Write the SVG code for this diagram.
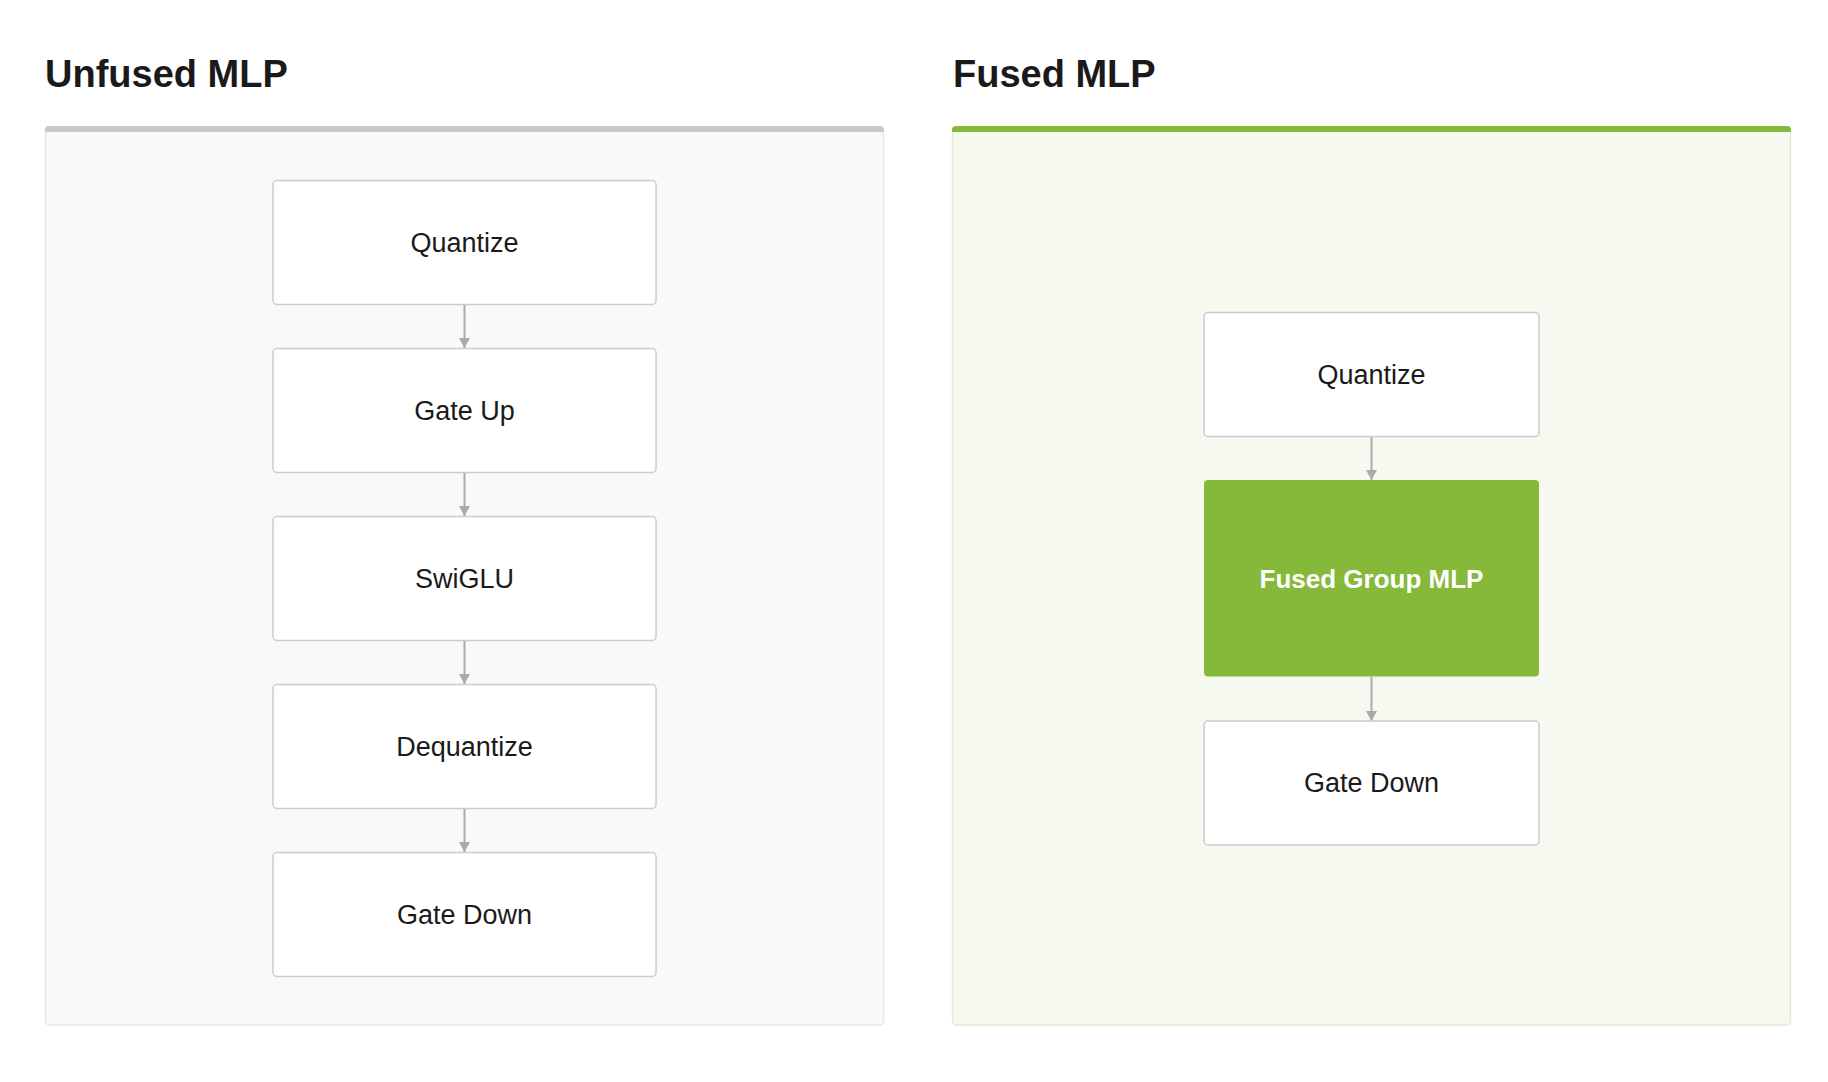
<svg xmlns="http://www.w3.org/2000/svg" width="1828" height="1082" viewBox="0 0 1828 1082">
  <style>
    .title { font-family: "Liberation Sans", Arial, sans-serif; font-weight: bold; font-size: 38px; fill: #1a1a1a; }
    .label { font-family: "Liberation Sans", Arial, sans-serif; font-size: 27px; fill: #1a1a1a; text-anchor: middle; dominant-baseline: central; }
    .label-w { font-family: "Liberation Sans", Arial, sans-serif; font-weight: bold; font-size: 26px; fill: #ffffff; text-anchor: middle; dominant-baseline: central; }
    .box { fill: #ffffff; stroke: #cccccc; stroke-width: 1.5; }
    .gbox { fill: #86b83a; }
    .conn { stroke: #aaaaaa; stroke-width: 2; fill: none; marker-end: url(#arrow); }
  </style>
  <defs>
    <marker id="arrow" viewBox="0 0 10 11" refX="10" refY="5.5" markerWidth="10" markerHeight="11" markerUnits="userSpaceOnUse" orient="auto">
      <path d="M0,0 L10,5.5 L0,11 Z" fill="#aaaaaa"/>
    </marker>
  </defs>
  <rect width="1828" height="1082" fill="#ffffff"/>

  <g id="panel-unfused">
    <text class="title" x="45" y="87">Unfused MLP</text>
    <rect x="45.5" y="127" width="838" height="898" rx="4" fill="#f9f9f9" stroke="#e6e6e6" stroke-width="1.5"/>
    <path d="M45,132 V130 Q45,126 49,126 H880 Q884,126 884,130 V132 Z" fill="#c8c8c8"/>
  </g>

  <g id="panel-fused">
    <text class="title" x="953" y="87">Fused MLP</text>
    <rect x="952.5" y="127" width="838" height="898" rx="4" fill="#f6f9f0" stroke="#e2ebd3" stroke-width="1.5"/>
    <path d="M952,132 V130 Q952,126 956,126 H1787 Q1791,126 1791,130 V132 Z" fill="#86b83a"/>
  </g>

  <g id="connectors">
    <line class="conn" x1="464.5" y1="305" x2="464.5" y2="348"/>
    <line class="conn" x1="464.5" y1="473" x2="464.5" y2="516"/>
    <line class="conn" x1="464.5" y1="641" x2="464.5" y2="684"/>
    <line class="conn" x1="464.5" y1="809" x2="464.5" y2="852"/>
    <line class="conn" x1="1371.5" y1="437" x2="1371.5" y2="480"/>
    <line class="conn" x1="1371.5" y1="677" x2="1371.5" y2="721"/>
  </g>

  <g id="u-quantize">
    <rect class="box" x="273" y="180.5" width="383" height="124" rx="4"/>
    <text class="label" x="464.5" y="242.5">Quantize</text>
  </g>
  <g id="u-gateup">
    <rect class="box" x="273" y="348.5" width="383" height="124" rx="4"/>
    <text class="label" x="464.5" y="410.5">Gate Up</text>
  </g>
  <g id="u-swiglu">
    <rect class="box" x="273" y="516.5" width="383" height="124" rx="4"/>
    <text class="label" x="464.5" y="578.5">SwiGLU</text>
  </g>
  <g id="u-dequantize">
    <rect class="box" x="273" y="684.5" width="383" height="124" rx="4"/>
    <text class="label" x="464.5" y="746.5">Dequantize</text>
  </g>
  <g id="u-gatedown">
    <rect class="box" x="273" y="852.5" width="383" height="124" rx="4"/>
    <text class="label" x="464.5" y="914.5">Gate Down</text>
  </g>

  <g id="f-quantize">
    <rect class="box" x="1204" y="312.5" width="335" height="124" rx="4"/>
    <text class="label" x="1371.5" y="374.5">Quantize</text>
  </g>
  <g id="f-fused">
    <rect class="gbox" x="1204" y="480" width="335" height="196.5" rx="4"/>
    <text class="label-w" x="1371.5" y="578.5">Fused Group MLP</text>
  </g>
  <g id="f-gatedown">
    <rect class="box" x="1204" y="721" width="335" height="124" rx="4"/>
    <text class="label" x="1371.5" y="783">Gate Down</text>
  </g>
</svg>
